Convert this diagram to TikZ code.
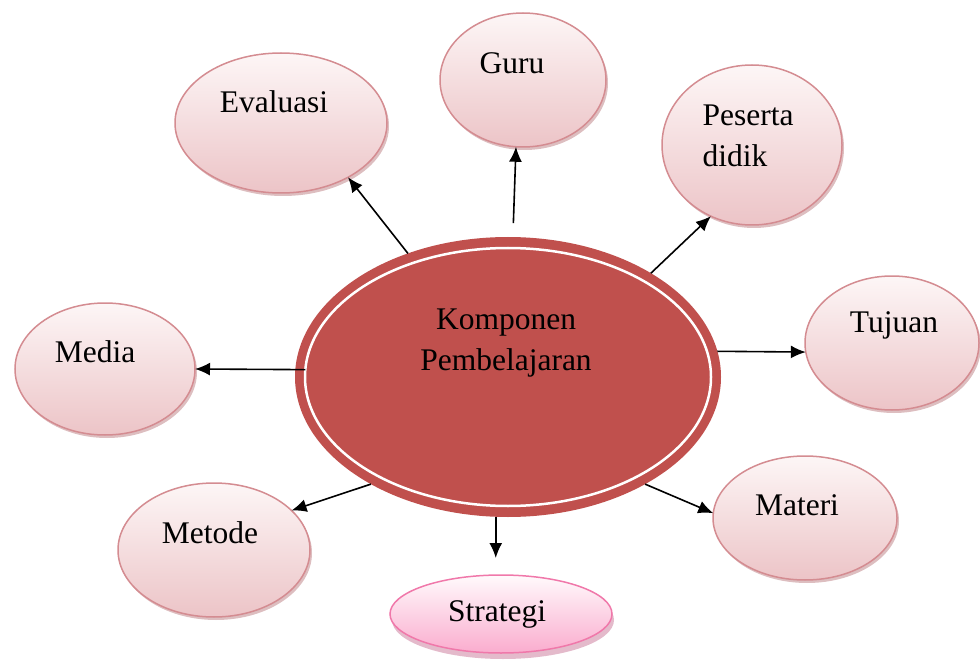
\documentclass[tikz,border=0pt]{standalone}
\usepackage{fontspec}
\setmainfont{Liberation Serif}
\usetikzlibrary{shapes.geometric,arrows.meta,shadows,calc}
\definecolor{redc}{RGB}{192,80,77}
\definecolor{bubbleline}{RGB}{212,140,145}
\definecolor{bubbletop}{RGB}{253,246,246}
\definecolor{bubblebot}{RGB}{236,196,199}
\definecolor{bubbleshadow}{RGB}{180,110,115}
\definecolor{stratline}{RGB}{240,120,170}
\definecolor{strattop}{RGB}{255,250,252}
\definecolor{stratbot}{RGB}{250,172,206}
\definecolor{stratedge}{RGB}{205,130,160}
\begin{document}
\begin{tikzpicture}[x=1pt,y=-1pt,
  bubble/.style={ellipse, draw=bubbleline, line width=1.5pt, top color=bubbletop,
    bottom color=bubblebot, inner sep=0pt, outer sep=0pt,
    drop shadow={shadow xshift=2pt, shadow yshift=-3pt, opacity=.45, fill=bubbleshadow}},
  lbl/.style={font=\fontsize{31.5}{41}\selectfont, inner sep=0pt, align=center},
  arr/.style={line width=1.6pt, -{Latex[length=15pt,width=13pt]}}]
\useasboundingbox (0,0) rectangle (980,671);
% outer bubbles
\node[bubble, minimum width=212pt, minimum height=140pt] (eval) at (281,123) {};
\node[bubble, minimum width=166pt, minimum height=134pt] (guru) at (523,80) {};
\node[bubble, minimum width=180pt, minimum height=160pt] (pes) at (752,145) {};
\node[bubble, minimum width=174pt, minimum height=134pt] (tuj) at (892,343) {};
\node[bubble, minimum width=180pt, minimum height=132pt] (media) at (105,369) {};
\node[bubble, minimum width=192pt, minimum height=134pt] (metode) at (214,550) {};
\node[bubble, minimum width=184pt, minimum height=124pt] (materi) at (805,518) {};
\node[ellipse, draw=stratline, line width=1.5pt, top color=strattop, bottom color=stratbot,
  inner sep=0pt, outer sep=0pt, minimum width=222pt, minimum height=78pt,
  drop shadow={shadow xshift=2pt, shadow yshift=-6pt, opacity=.55, fill=stratedge}]
  (strat) at (501,614) {};
% central
\node[ellipse, fill=redc, minimum width=426pt, minimum height=280pt, inner sep=0pt, outer sep=0pt]
  (c) at (508,377) {};
\draw[white, line width=2.5pt] (c.center) ellipse [x radius=203, y radius=129];
% arrows
\draw[arr] (c.129) -- (eval.-39);
\draw[arr, shorten <=14pt] (c.88) -- (guru.-96);
\draw[arr] (c.36) -- (pes.-120);
\draw[arr] (c.7) -- (tuj.186);
\draw[arr, shorten <=-10pt] (c.178) -- (media.east);
\draw[arr] (c.-142) -- (metode.27);
\draw[arr, shorten >=17pt] (c.-95) -- (c.-95 |- strat.north);
\draw[arr] (c.-38) -- (materi.177);
% labels
\node[lbl] (ct) at (506,343) {Komponen\\Pembelajaran};
\node[lbl] (evalt) at (274,102) {Evaluasi};
\node[lbl] (gurut) at (512,63) {Guru};
\node[lbl, align=left] (pest) at (748,136) {Peserta\\didik};
\node[lbl] (tujt) at (894,325) {Tujuan};
\node[lbl] (medt) at (95,352) {Media};
\node[lbl] (mett) at (210,533) {Metode};
\node[lbl] (matt) at (797,505) {Materi};
\node[lbl] (strt) at (497,614) {Strategi};
\end{tikzpicture}
\end{document}
